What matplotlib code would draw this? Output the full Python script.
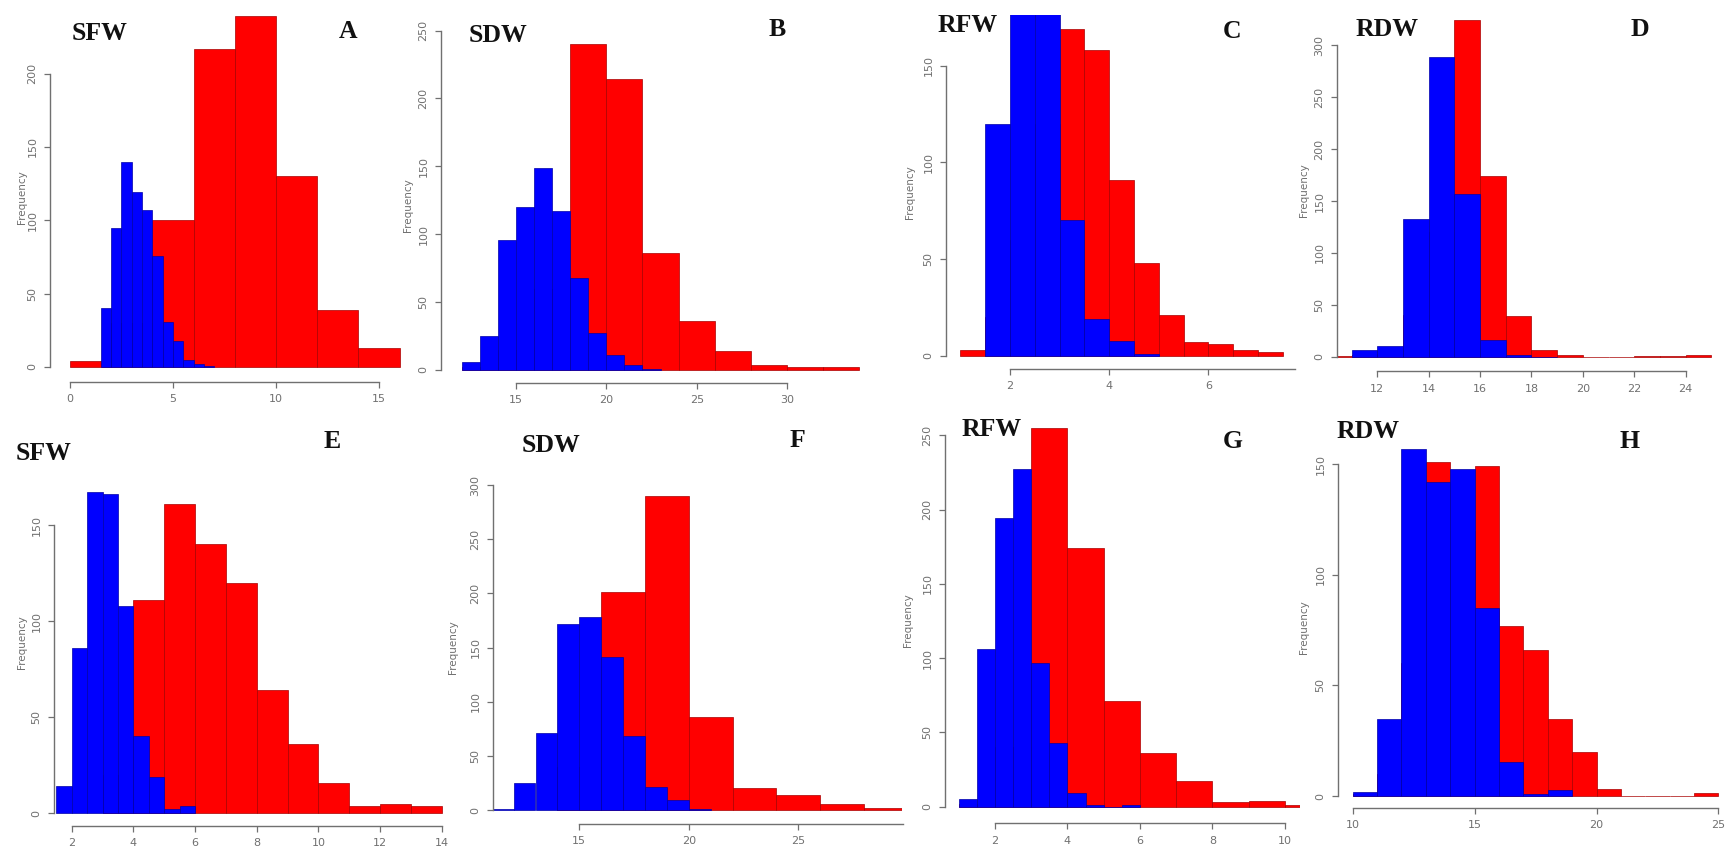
import matplotlib.pyplot as plt
import numpy as np

W_PX, H_PX = 1731, 864

# ---- histogram data: bin edges + counts (red drawn first, blue on top) ----
A_RED_EDGES = np.arange(0, 16.1, 2)
A_RED = [4, 30, 100, 217, 239, 130, 39, 13]
A_BLUE_EDGES = np.arange(1.5, 7.01, 0.5)
A_BLUE = [40, 95, 140, 119, 107, 76, 31, 18, 5, 2, 1]

B_RED_EDGES = np.arange(12, 34.1, 2)
B_RED = [2, 15, 60, 240, 214, 86, 36, 14, 4, 2, 2]
B_BLUE_EDGES = np.arange(12, 23.1, 1)
B_BLUE = [6, 25, 96, 120, 149, 117, 68, 27, 11, 4, 1]

C_RED_EDGES = np.arange(1, 7.51, 0.5)
C_RED = [3, 20, 60, 120, 169, 158, 91, 48, 21, 7, 6, 3, 2]
C_BLUE_EDGES = np.arange(1.5, 5.01, 0.5)
C_BLUE = [120, 190, 185, 70, 19, 8, 1]

D_RED_EDGES = np.arange(10, 25.1, 1)
D_RED = [1, 2, 3, 40, 120, 324, 174, 39, 6, 2, 0, 0, 1, 1, 2]
D_BLUE_EDGES = np.arange(11, 19.1, 1)
D_BLUE = [6, 10, 133, 289, 157, 16, 2, 0]

E_RED_EDGES = np.arange(3, 14.1, 1)
E_RED = [20, 111, 161, 140, 120, 64, 36, 16, 4, 5, 4]
E_BLUE_EDGES = np.arange(1.5, 6.01, 0.5)
E_BLUE = [14, 86, 167, 166, 108, 40, 19, 2, 4]

F_RED_EDGES = np.arange(14, 30.1, 2)
F_RED = [40, 201, 290, 86, 20, 14, 6, 2]
F_BLUE_EDGES = np.arange(11, 21.1, 1)
F_BLUE = [1, 25, 71, 172, 178, 141, 68, 21, 9, 1]

G_RED_EDGES = np.arange(1, 11.1, 1)
G_RED = [2, 40, 255, 174, 71, 36, 17, 3, 4, 1]
G_BLUE_EDGES = np.arange(1, 6.01, 0.5)
G_BLUE = [5, 106, 194, 227, 97, 43, 9, 1, 0, 1]

H_RED_EDGES = np.arange(10, 25.1, 1)
H_RED = [1, 10, 60, 151, 120, 149, 77, 66, 35, 20, 3, 0, 0, 0, 1.5]
H_BLUE_EDGES = np.arange(10, 19.1, 1)
H_BLUE = [2, 35, 157, 142, 148, 85, 15.5, 1, 2.7]

TRAITS = ["SFW", "SDW", "RFW", "RDW", "SFW", "SDW", "RFW", "RDW"]
LETTERS = ["A", "B", "C", "D", "E", "F", "G", "H"]
X_TICKS = [[0, 5, 10, 15], [15, 20, 25, 30], [2, 4, 6], [12, 14, 16, 18, 20, 22, 24],
           [2, 4, 6, 8, 10, 12, 14], [15, 20, 25], [2, 4, 6, 8, 10], [10, 15, 20, 25]]
Y_TICKS = [[0, 50, 100, 150, 200], [0, 50, 100, 150, 200, 250], [0, 50, 100, 150],
           [0, 50, 100, 150, 200, 250, 300], [0, 50, 100, 150],
           [0, 50, 100, 150, 200, 250, 300], [0, 50, 100, 150, 200, 250], [0, 50, 100, 150]]

DATA = [(A_RED_EDGES, A_RED, A_BLUE_EDGES, A_BLUE), (B_RED_EDGES, B_RED, B_BLUE_EDGES, B_BLUE),
        (C_RED_EDGES, C_RED, C_BLUE_EDGES, C_BLUE), (D_RED_EDGES, D_RED, D_BLUE_EDGES, D_BLUE),
        (E_RED_EDGES, E_RED, E_BLUE_EDGES, E_BLUE), (F_RED_EDGES, F_RED, F_BLUE_EDGES, F_BLUE),
        (G_RED_EDGES, G_RED, G_BLUE_EDGES, G_BLUE), (H_RED_EDGES, H_RED, H_BLUE_EDGES, H_BLUE)]

# ---- layout in pixels ----
# (x ref value, x ref px, px per x unit, baseline py, px per count,
#  y-axis px, x-axis py, right px, top py, x-spine end)
LAYOUT = [
    (0, 70, 20.6, 367, 1.467, 50, 382, 405, 8, 15),
    (15, 516, 18.07, 370, 1.358, 441, 383, 868, 5, 30),
    (2, 1010, 49.6, 356, 1.936, 946, 369, 1300, 15, 7.75),
    (12, 1377.3, 25.7, 356.7, 1.038, 1337, 371, 1731, 8, 24),
    (2, 71.7, 30.83, 813.3, 1.922, 54, 826, 445, 425, 14),
    (15, 579.3, 21.9, 810, 1.083, 493, 824, 902, 425, 29.8),
    (2, 995, 36.25, 806.7, 1.486, 945, 823, 1300, 425, 10),
    (10, 1352.7, 24.38, 796, 2.212, 1338, 808, 1731, 425, 25),
]
FREQ_POS = [(22, 197), (408, 205), (910, 192), (1304, 190),
            (22, 642), (453, 647), (908, 620), (1304, 627)]
TRAIT_POS = [(100, 34), (498, 35), (968, 25), (1387, 29),
             (44, 453), (551, 445), (992, 429), (1368, 432)]
LETTER_POS = [(348, 32), (777, 30), (1232, 32), (1640, 30),
              (332, 442), (797, 440), (1233, 442), (1630, 442)]

GREY = "#707070"
fig = plt.figure(figsize=(W_PX / 100, H_PX / 100), dpi=100)
fig.patch.set_facecolor("white")

for i, (re, rc, be, bc) in enumerate(DATA):
    xv, xpx, xppu, base, yppu, left, bottom, right, top, xend = LAYOUT[i]
    ax = fig.add_axes([left / W_PX, 1 - bottom / H_PX, (right - left) / W_PX, (bottom - top) / H_PX])
    ax.patch.set_visible(False)
    ax.set_xlim(xv + (left - xpx) / xppu, xv + (right - xpx) / xppu)
    ax.set_ylim(-(bottom - base) / yppu, (base - top) / yppu)

    ax.bar(re[:-1], rc, width=np.diff(re), align="edge", color="#ff0000",
           edgecolor="#a80000", linewidth=0.5)
    ax.bar(be[:-1], bc, width=np.diff(be), align="edge", color="#0000ff",
           edgecolor="#0000a8", linewidth=0.5)

    for s in ["top", "right"]:
        ax.spines[s].set_visible(False)
    ax.spines["left"].set_bounds(Y_TICKS[i][0], Y_TICKS[i][-1])
    ax.spines["bottom"].set_bounds(X_TICKS[i][0], xend)
    for s in ["left", "bottom"]:
        ax.spines[s].set_color(GREY)
        ax.spines[s].set_linewidth(1.0)
    ax.set_xticks(X_TICKS[i])
    ax.set_yticks(Y_TICKS[i])
    ax.tick_params(direction="out", length=4, width=0.9, color=GREY,
                   labelcolor=GREY, labelsize=8, pad=5)
    for lab in ax.get_yticklabels():
        lab.set_rotation(90)
        lab.set_va("center")

    fig.text(FREQ_POS[i][0] / W_PX, 1 - FREQ_POS[i][1] / H_PX, "Frequency", rotation=90,
             ha="center", va="center", fontsize=7.5, color=GREY)
    fig.text(TRAIT_POS[i][0] / W_PX, 1 - TRAIT_POS[i][1] / H_PX, TRAITS[i],
             ha="center", va="center", fontsize=18.5, fontweight="bold",
             family="Liberation Serif", color="#111111")
    fig.text(LETTER_POS[i][0] / W_PX, 1 - LETTER_POS[i][1] / H_PX, LETTERS[i],
             ha="center", va="center", fontsize=18.5, fontweight="bold",
             family="Liberation Serif", color="#111111")

fig.savefig("out.png", dpi=100)
